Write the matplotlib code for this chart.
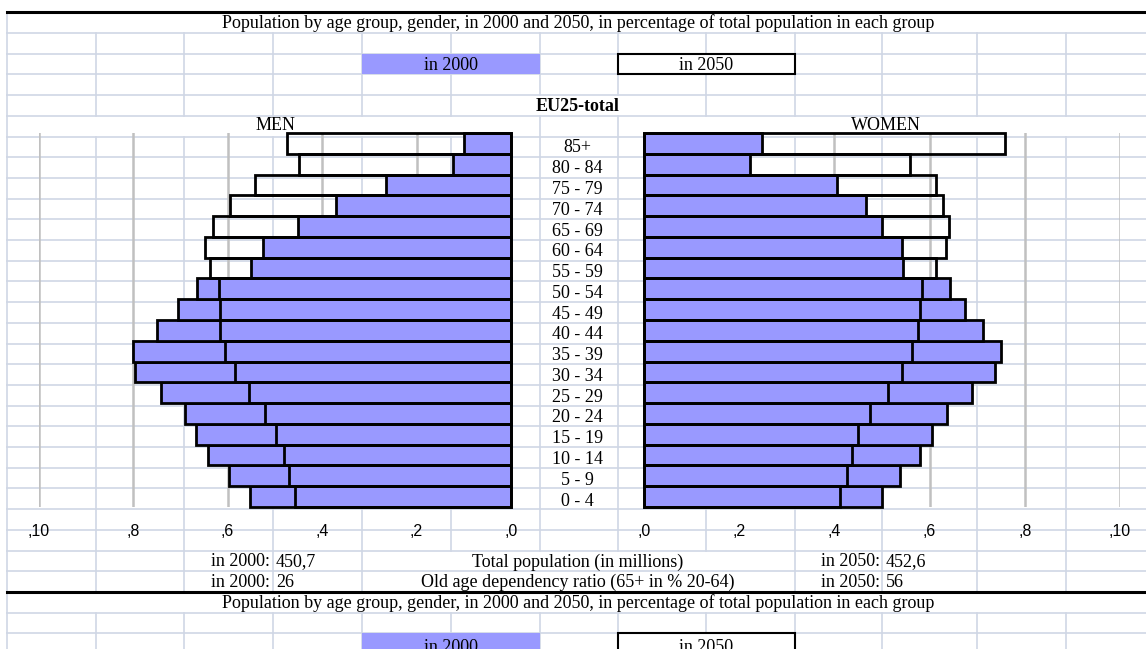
import matplotlib
matplotlib.use('Agg')
from matplotlib import pyplot as plt
from matplotlib.patches import Rectangle
from matplotlib.transforms import ScaledTranslation

# Grupos de edad, de abajo hacia arriba
ages = ['0 - 4', '5 - 9', '10 - 14', '15 - 19', '20 - 24', '25 - 29', '30 - 34',
        '35 - 39', '40 - 44', '45 - 49', '50 - 54', '55 - 59', '60 - 64',
        '65 - 69', '70 - 74', '75 - 79', '80 - 84', '85+']

men_2000 = [5.52, 5.97, 6.41, 6.67, 6.90, 7.41, 7.95, 8.01, 7.50, 7.05,
            6.64, 5.50, 5.24, 4.51, 3.70, 2.64, 1.23, 0.99]
men_2050 = [4.57, 4.70, 4.80, 4.97, 5.20, 5.54, 5.84, 6.05, 6.15, 6.15,
            6.18, 6.38, 6.47, 6.31, 5.94, 5.41, 4.48, 4.74]
women_2000 = [4.99, 5.38, 5.79, 6.05, 6.36, 6.89, 7.37, 7.51, 7.12, 6.74,
              6.42, 5.44, 5.42, 4.99, 4.66, 4.05, 2.22, 2.47]
women_2050 = [4.12, 4.26, 4.36, 4.49, 4.75, 5.12, 5.42, 5.63, 5.76, 5.79,
              5.85, 6.13, 6.34, 6.40, 6.28, 6.13, 5.59, 7.58]

ticks = [0, 2, 4, 6, 8, 10]
tick_labels = [',0', ',2', ',4', ',6', ',8', ',10']

title = 'Population by age group, gender, in 2000 and 2050, in percentage of total population in each group'
pop_2000, pop_2050 = '450,7', '452,6'
ratio_2000, ratio_2050 = '26', '56'

W, H = 1146, 649
BLUE = '#9999ff'
CELL = '#d0d7e5'
SERIF = ['Liberation Serif', 'DejaVu Serif']
SANS = ['Liberation Sans', 'DejaVu Sans']
FS = 13

fig = plt.figure(figsize=(W / 100, H / 100), dpi=100)

# Fondo tipo hoja de calculo (coordenadas en pixeles)
bg = fig.add_axes([0, 0, 1, 1])
bg.set_xlim(0, W)
bg.set_ylim(H, 0)
bg.axis('off')

cols = [7, 96, 184, 273, 362, 451, 540, 618, 706, 795, 882, 977, 1066]
edges = [12] + [33 + 20.7 * k for k in range(30)] + [660]

for y in edges[1:-1]:
    bg.plot([7, W], [y, y], color=CELL, lw=1.2, zorder=0)


def hidden(x, j):
    if j in (0, 28):
        return x != 7
    if j in (2, 30):
        return x in (451, 706)
    if j == 4:
        return x in (540, 618)
    if j == 5:
        return x not in (7, 540, 618)
    if j in (26, 27):
        return x in (451, 540, 618, 706)
    return False


for x in cols:
    for j in range(len(edges) - 1):
        if not hidden(x, j):
            bg.plot([x, x], [edges[j], edges[j + 1]], color=CELL, lw=1.2, zorder=0)

# lineas gruesas negras
for y in (edges[0], edges[28]):
    bg.plot([7, W], [y, y], color='black', lw=2.2, zorder=1)


def mid(j):
    return (edges[j] + edges[j + 1]) / 2 + 1


def legend_row(j):
    bg.add_patch(Rectangle((362, edges[j]), 178, edges[j + 1] - edges[j],
                           facecolor=BLUE, edgecolor='none', zorder=1))
    bg.add_patch(Rectangle((618, edges[j]), 177, edges[j + 1] - edges[j],
                           facecolor='white', edgecolor='black', lw=1.5, zorder=1))
    bg.text(451, mid(j), 'in 2000', ha='center', va='center', family=SERIF, fontsize=FS, zorder=2)
    bg.text(706, mid(j), 'in 2050', ha='center', va='center', family=SERIF, fontsize=FS, zorder=2)


bg.text(578, mid(0), title, ha='center', va='center', family=SERIF, fontsize=FS)
legend_row(2)
bg.text(578, mid(4), 'EU25-total', ha='center', va='center', family=SERIF,
        fontsize=FS, fontweight='bold')
bg.text(275, 126, 'MEN', ha='center', va='center', family=SERIF, fontsize=FS)
bg.text(886, 126, 'WOMEN', ha='center', va='center', family=SERIF, fontsize=FS)

for j, label, v0, v1 in [(26, 'Total population (in millions)', pop_2000, pop_2050),
                         (27, 'Old age dependency ratio (65+ in % 20-64)', ratio_2000, ratio_2050)]:
    y = mid(j)
    bg.text(270, y, 'in 2000:', ha='right', va='center', family=SERIF, fontsize=FS)
    bg.text(276, y, v0, ha='left', va='center', family=SERIF, fontsize=FS)
    bg.text(578, y, label, ha='center', va='center', family=SERIF, fontsize=FS)
    bg.text(880, y, 'in 2050:', ha='right', va='center', family=SERIF, fontsize=FS)
    bg.text(886, y, v1, ha='left', va='center', family=SERIF, fontsize=FS)

bg.text(578, mid(28), title, ha='center', va='center', family=SERIF, fontsize=FS)
legend_row(30)

# Piramides
top, bottom = 133, 507
men_ax = fig.add_axes([38.5 / W, 1 - bottom / H, (511 - 38.5) / W, (bottom - top) / H])
women_ax = fig.add_axes([644 / W, 1 - bottom / H, (1120 - 644) / W, (bottom - top) / H])
ypos = list(range(len(ages)))

for ax, v2000, v2050 in [(men_ax, men_2000, men_2050), (women_ax, women_2000, women_2050)]:
    ax.set_facecolor('none')
    ax.barh(ypos, v2000, height=1.0, color=BLUE, edgecolor='black', lw=2.0, clip_on=False, zorder=3)
    ax.barh(ypos, v2050, height=1.0, facecolor='none', edgecolor='black', lw=2.0, clip_on=False, zorder=4)
    ax.set_ylim(-0.5, len(ages) - 0.5)
    ax.set_xticks(ticks)
    ax.set_xticklabels(tick_labels, family=SANS, fontsize=11.5)
    ax.tick_params(axis='x', length=0, pad=12)
    ax.grid(axis='x', color='#c0c0c0', lw=1.8)
    ax.set_axisbelow(True)
    for s in ax.spines.values():
        s.set_visible(False)

men_ax.set_xlim(10, 0)
men_ax.set_yticks([])
women_ax.set_xlim(0, 10)
women_ax.set_yticks(ypos)
women_ax.set_yticklabels(ages, family=SERIF, fontsize=FS)
women_ax.tick_params(axis='y', length=0, pad=48)
shift = ScaledTranslation(0, -2.5 / 100, fig.dpi_scale_trans)
for lab in women_ax.get_yticklabels():
    lab.set_ha('center')
    lab.set_transform(lab.get_transform() + shift)

plt.savefig('out.png', dpi=100)
